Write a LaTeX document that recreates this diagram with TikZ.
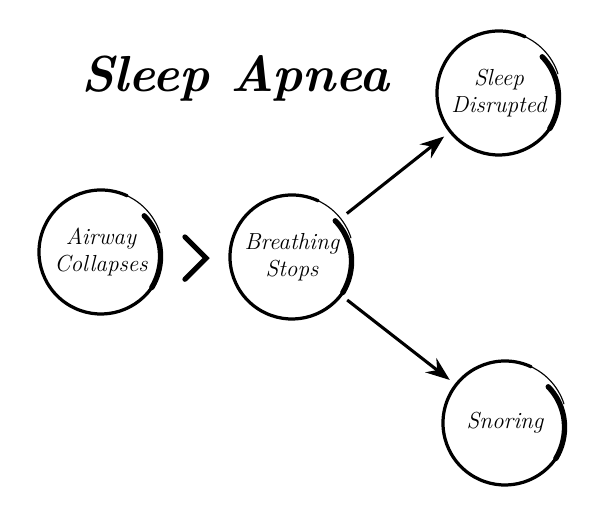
\documentclass[tikz,border=0pt]{standalone}
\usepackage{tikz}
\usetikzlibrary{arrows.meta, calc}
\tikzstyle{state} = [circle, minimum size = 3.1cm, inner sep = 0pt, outer sep = 0pt, align = center, font = \itshape\fontsize{16.5}{19}\selectfont]
\tikzstyle{ring} = [line width = 2.3pt, line cap = round]
\tikzstyle{ring tail} = [line width = 0.8pt, line cap = round]
\tikzstyle{ring end} = [line width = 3.8pt, line cap = round]
\tikzstyle{post} = [-{Stealth[length = 6mm, width = 4.5mm, inset = 2mm]}, line width = 2.2pt, shorten <= 2mm, shorten >= 2mm]
\tikzstyle{chevron} = [line width = 3.6pt, line join = miter, line cap = round]
\tikzstyle{headline} = [font = \bfseries\itshape\fontsize{36}{44}\selectfont]

% open ring round a state, with a thick stroke on its right side
\newcommand{\ring}[1]{
    \draw[ring tail] (#1.18) arc[start angle = 18, end angle = 70, radius = 1.55cm];
    \draw[ring] (#1.65) arc[start angle = 65, end angle = 330, radius = 1.55cm];
    \draw[ring end, shift = {(#1.center)}] plot[domain = -35:40, samples = 30, smooth] (\x:{1.55 - 0.14*(\x+35)/75});
}

\begin{document}
\begin{tikzpicture}
    \useasboundingbox (0,0) rectangle (15,13.15);
    % draw nodes
    \node[headline] (title) at (5.875,11.2) {Sleep Apnea};
    \node[state] (air) at (2.525,6.85) {Airway\\Collapses};
    \node[state] (breath) at (7.3,6.725) {Breathing\\Stops};
    \node[state] (sleep) at (12.475,10.825) {Sleep\\Disrupted};
    \node[state] (snore) at (12.625,2.575) {Snoring};
    % draw rings
    \ring{air}
    \ring{breath}
    \ring{sleep}
    \ring{snore}
    % draw chevron and arrows
    \coordinate (mid) at ($(air)!0.5!(breath) + (0,-0.09)$);
    \draw[chevron] ([shift = {(-0.29,0.53)}]mid) -- ([shift = {(0.24,0)}]mid) -- ([shift = {(-0.29,-0.53)}]mid);
    \draw[post] (breath) -- (sleep);
    \draw[post] (breath) -- (snore);
\end{tikzpicture}
\end{document}
